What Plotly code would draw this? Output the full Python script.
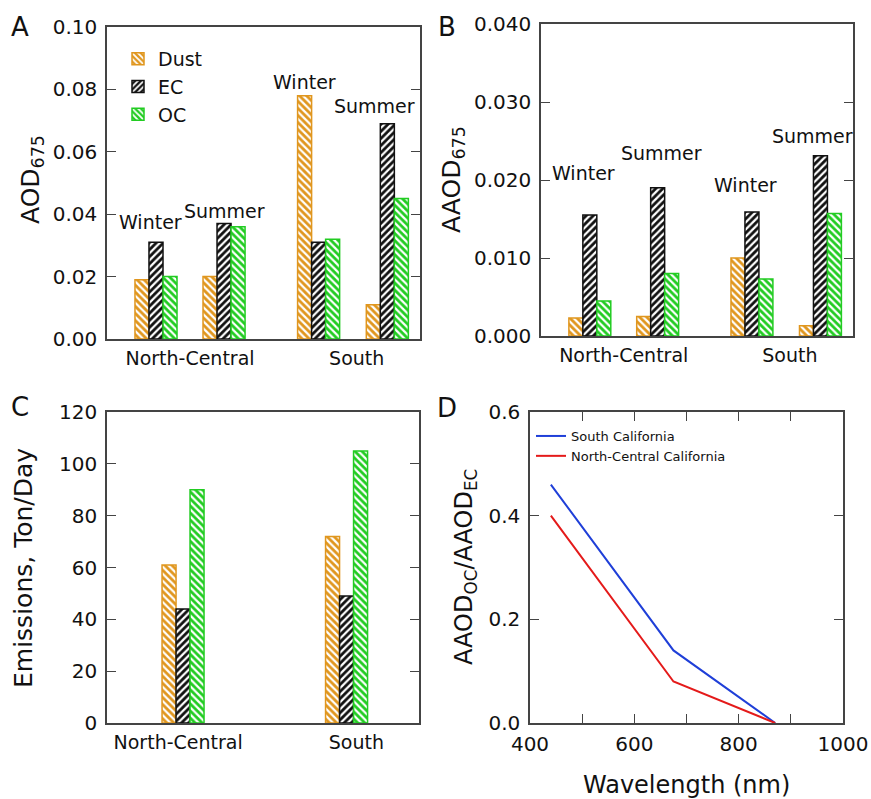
import plotly.graph_objects as go

# ---------------- data ----------------
species = ["Dust", "EC", "OC"]
seasons = ["Winter", "Summer", "Winter", "Summer"]
regions = ["North-Central", "South"]

# Panel A: AOD675 (NC Winter, NC Summer, S Winter, S Summer)
aod_dust = [0.019, 0.020, 0.078, 0.011]
aod_ec = [0.031, 0.037, 0.031, 0.069]
aod_oc = [0.020, 0.036, 0.032, 0.045]

# Panel B: AAOD675
aaod_dust = [0.0023, 0.0025, 0.0100, 0.0013]
aaod_ec = [0.0155, 0.0190, 0.0159, 0.0231]
aaod_oc = [0.0045, 0.0080, 0.0073, 0.0157]

# Panel C: emissions (ton/day), NC, South
emis_dust = [61, 72]
emis_ec = [44, 49]
emis_oc = [90, 105]

# Panel D: AAOD_OC / AAOD_EC vs wavelength
wavelength = [440, 675, 870]
ratio_south = [0.46, 0.14, 0.0]
ratio_nc = [0.40, 0.08, 0.0]

# ---------------- layout helpers ----------------
W, H = 871, 799
FONT = "DejaVu Sans"
TXT = "#111111"
AX = "#444444"
COLORS = {"Dust": "#E0961E", "EC": "#111111", "OC": "#22CC22"}
SHAPES = {"Dust": "\\", "EC": "/", "OC": "\\"}


def px(x, y):
    return x / W, 1 - y / H


def dom_x(a, b):
    return [a / W, b / W]


def dom_y(top, bottom):
    return [1 - bottom / H, 1 - top / H]


# group positions (layout) for seasonal bars and region bars
group_pos_ab = [1, 2, 3.39, 4.4]
bw_ab = 0.206
group_pos_c = [1, 2]
bw_c = 0.0856

fig = go.Figure()
fig.update_layout(template=go.layout.Template())


def add_bars(xaxis, yaxis, pos, bw, series, show):
    for i, (name, vals) in enumerate(zip(species, series)):
        c = COLORS[name]
        fig.add_trace(go.Bar(
            x=pos, y=vals, name=name, width=bw, offset=-1.5 * bw + i * bw,
            xaxis=xaxis, yaxis=yaxis, legendgroup=name, showlegend=show,
            marker=dict(color=c, line=dict(color=c, width=1.5),
                        pattern=dict(shape=SHAPES[name], fgcolor="white",
                                     bgcolor=c, size=5, solidity=0.45,
                                     fillmode="replace")),
            hoverinfo="skip"))


add_bars("x", "y", group_pos_ab, bw_ab, [aod_dust, aod_ec, aod_oc], True)
add_bars("x2", "y2", group_pos_ab, bw_ab, [aaod_dust, aaod_ec, aaod_oc], False)
add_bars("x3", "y3", group_pos_c, bw_c, [emis_dust, emis_ec, emis_oc], False)

fig.add_trace(go.Scatter(x=wavelength, y=ratio_south, mode="lines",
                         name="South California", line=dict(color="#1F3FD8", width=2),
                         xaxis="x4", yaxis="y4", legend="legend2"))
fig.add_trace(go.Scatter(x=wavelength, y=ratio_nc, mode="lines",
                         name="North-Central California", line=dict(color="#E41A1A", width=2),
                         xaxis="x4", yaxis="y4", legend="legend2"))

tickfont = dict(family=FONT, size=20, color=TXT)
common = dict(showline=True, linecolor=AX, linewidth=1.5, mirror="ticks",
              showgrid=False, zeroline=False, tickfont=tickfont,
              tickcolor=AX, tickwidth=1.3, automargin=False)

xbar = dict(common, ticks="", mirror=True, tickfont=dict(family=FONT, size=19, color=TXT),
            ticklabelstandoff=1)
ytick = dict(common, ticks="inside", ticklen=9, ticklabelstandoff=4)

fig.update_layout(
    width=W, height=H, margin=dict(l=0, r=0, t=0, b=0, autoexpand=False),
    paper_bgcolor="white", plot_bgcolor="white",
    barmode="overlay", font=dict(family=FONT, color=TXT),
    xaxis=dict(xbar, domain=dom_x(107, 420), range=[0.28, 4.88],
               tickvals=[1.5, 3.95], ticktext=regions, anchor="y"),
    yaxis=dict(ytick, domain=dom_y(27, 339), range=[0, 0.1], dtick=0.02,
               tickformat=".2f", anchor="x"),
    xaxis2=dict(xbar, domain=dom_x(541, 853), range=[0.28, 4.88],
                tickvals=[1.5, 3.95], ticktext=regions, anchor="y2"),
    yaxis2=dict(ytick, domain=dom_y(24, 336), range=[0, 0.04], dtick=0.01,
                tickformat=".3f", anchor="x2"),
    xaxis3=dict(xbar, domain=dom_x(107, 419), range=[0.535, 2.443],
                tickvals=[0.97, 2.06], ticktext=regions, anchor="y3"),
    yaxis3=dict(ytick, domain=dom_y(412, 723), range=[0, 120], dtick=20,
                anchor="x3"),
    xaxis4=dict(common, domain=dom_x(530, 843), range=[400, 1000], dtick=200,
                ticks="inside", ticklen=9, ticklabelstandoff=2,
                minor=dict(dtick=100, ticks="inside", ticklen=9, tickcolor=AX),
                anchor="y4"),
    yaxis4=dict(ytick, domain=dom_y(412, 723), range=[0, 0.6], dtick=0.2,
                tickformat=".1f", anchor="x4"),
    legend=dict(x=px(118, 0)[0], y=px(0, 40)[1], xanchor="left", yanchor="top",
                font=dict(family=FONT, size=19, color=TXT), bgcolor="rgba(0,0,0,0)",
                tracegroupgap=0, itemwidth=30),
    legend2=dict(x=px(531, 0)[0], y=px(0, 421)[1], xanchor="left", yanchor="top",
                 font=dict(family=FONT, size=13, color=TXT), bgcolor="rgba(0,0,0,0)",
                 tracegroupgap=0, itemwidth=30),
)

annotations = []


def note(text, x, y, size, angle=0):
    ax, ay = px(x, y)
    annotations.append(dict(text=text, x=ax, y=ay, xref="paper", yref="paper",
                            xanchor="center", yanchor="middle", showarrow=False,
                            textangle=angle,
                            font=dict(family=FONT, size=size, color=TXT)))


# panel letters
note("A", 20, 27, 26)
note("B", 447, 27, 26)
note("C", 20, 407, 26)
note("D", 447, 408, 26)

# season labels
for (t, x, y) in zip(seasons, [150, 224, 304, 374], [222, 211, 82, 106]):
    note(t, x, y, 19)
for (t, x, y) in zip(seasons, [583, 661, 745, 812], [173, 153, 185, 136]):
    note(t, x, y, 19)

# axis titles
note("AOD<sub>675</sub>", 32, 180, 25, -90)
note("AAOD<sub>675</sub>", 453, 180, 25, -90)
note("Emissions, Ton/Day", 23, 568, 25, -90)
note("AAOD<sub>OC</sub>/AAOD<sub>EC</sub>", 465, 567, 24, -90)
note("Wavelength (nm)", 686, 785, 24)

fig.update_layout(annotations=annotations)
fig.write_html("out.html", config={"displayModeBar": False},
               post_script="document.body.style.margin='0';"
                           "document.body.style.overflow='hidden';")
